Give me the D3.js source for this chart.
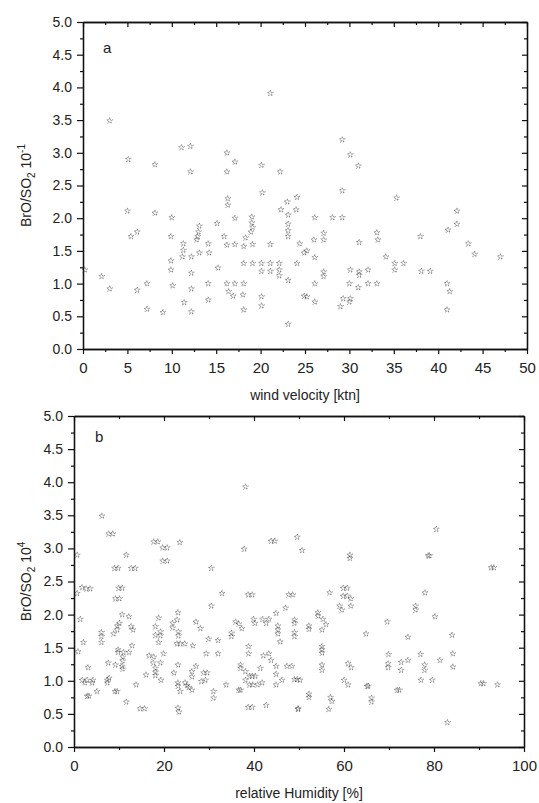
<!DOCTYPE html>
<html>
<head>
<meta charset="utf-8">
<script src="https://cdn.jsdelivr.net/npm/d3@7"></script>
<style>
  body { margin: 0; background: #fff; }
  text { font-family: "Liberation Sans", Arial, sans-serif; fill: #222; }
</style>
</head>
<body>
<div id="chart"></div>
<script>
// panel a: wind velocity [ktn] vs BrO/SO2
var windPoints = [
  [21.1,3.91],[3.0,3.49],[11.1,3.08],[12.1,3.10],[16.2,3.0],[17.1,2.86],[5.1,2.90],[8.1,2.82],
  [20.1,2.81],[12.1,2.71],[16.2,2.71],[22.2,2.71],[20.2,2.39],[16.3,2.30],[16.3,2.20],[5.0,2.11],
  [8.1,2.08],[10.0,2.01],[17.1,2.0],[19.0,2.02],[19.0,1.93],[19.1,1.86],[18.9,1.79],[23.0,2.25],
  [24.1,2.32],[22.3,2.13],[23.1,2.05],[24.0,2.13],[23.1,1.91],[23.1,1.81],[23.1,1.72],[24.4,1.61],
  [24.9,1.47],[15.1,1.92],[15.9,1.72],[16.2,1.59],[17.1,1.60],[18.1,1.57],[18.3,1.70],[19.1,1.60],
  [21.1,1.60],[13.1,1.88],[13.0,1.79],[12.9,1.72],[12.8,1.67],[14.1,1.61],[13.1,1.47],[14.2,1.47],
  [11.3,1.61],[11.3,1.51],[11.2,1.41],[12.2,1.41],[9.9,1.72],[9.9,1.35],[9.9,1.21],[10.1,0.97],
  [5.4,1.72],[6.1,1.79],[0.2,1.21],[2.1,1.11],[3.0,0.92],[6.1,0.90],[7.2,1.00],[7.2,0.61],
  [9.0,0.56],[12.2,1.16],[12.2,0.92],[12.2,0.57],[11.4,0.71],[14.1,1.0],[14.1,0.75],[16.2,1.0],
  [17.1,1.0],[18.1,1.0],[16.4,0.88],[16.9,0.81],[18.0,0.83],[18.1,0.60],[18.1,1.31],[19.1,1.31],
  [20.1,1.31],[20.1,1.19],[21.1,1.31],[21.1,1.19],[22.1,1.31],[22.1,1.21],[22.1,1.12],[23.1,1.05],
  [20.1,0.80],[20.1,0.66],[23.1,0.38],[24.1,1.31],[24.9,0.81],[15.2,1.24],
  [29.2,3.20],[30.1,2.97],[31.0,2.80],[29.2,2.42],[35.3,2.31],[26.1,2.01],[28.1,2.01],[29.2,2.01],
  [27.1,1.77],[27.1,1.67],[26.0,1.67],[25.2,1.50],[26.1,1.40],[31.1,1.63],[33.1,1.78],[33.2,1.67],
  [38.0,1.72],[41.1,1.82],[42.1,2.11],[42.1,1.91],[43.4,1.61],[44.1,1.45],[47.0,1.41],[34.1,1.41],
  [35.1,1.31],[36.1,1.31],[35.1,1.21],[27.1,1.18],[27.1,1.11],[30.1,1.21],[31.1,1.18],[31.1,1.13],
  [32.1,1.21],[38.1,1.19],[39.1,1.19],[26.1,1.00],[30.0,1.0],[32.1,1.0],[33.1,1.0],[31.0,0.94],
  [41.0,1.0],[41.3,0.88],[41.0,0.60],[25.2,0.80],[26.1,0.72],[29.3,0.77],[30.1,0.77],[30.0,0.72],
  [29.0,0.65]
];

// panel b: relative humidity [%] vs BrO/SO2
var humidityPoints = [
  [38.1,3.93],[6.2,3.49],[7.7,3.22],[8.6,3.22],[17.7,3.10],[18.6,3.10],[19.7,3.01],[20.7,3.01],
  [23.5,3.09],[19.7,2.81],[20.7,2.81],[0.7,2.90],[11.6,2.90],[9.0,2.70],[9.8,2.70],[12.7,2.70],
  [13.6,2.70],[30.5,2.70],[37.8,2.99],[43.8,3.11],[44.6,3.11],[49.6,3.17],[1.8,2.41],[2.7,2.39],
  [3.6,2.39],[0.7,2.32],[9.9,2.40],[10.7,2.40],[9.2,2.24],[10.1,2.24],[30.5,2.13],[32.9,2.32],
  [38.7,2.30],[39.6,2.30],[47.7,2.30],[48.6,2.30],[47.0,2.10],[23.1,2.03],[10.7,2.0],[12.2,1.97],
  [1.4,1.93],[18.8,1.95],[21.9,1.87],[21.9,1.80],[22.9,1.92],[10.1,1.87],[9.6,1.83],[9.6,1.77],
  [12.7,1.82],[13.1,1.77],[6.1,1.73],[6.1,1.67],[6.1,1.58],[8.8,1.71],[18.1,1.82],[18.1,1.69],
  [19.2,1.74],[19.2,1.68],[18.8,1.58],[23.2,1.74],[23.2,1.68],[27.1,1.89],[28.1,1.79],[29.9,1.63],
  [32.0,1.61],[35.9,1.89],[36.6,1.86],[37.3,1.79],[35.0,1.72],[35.0,1.67],[39.9,1.93],[41.9,1.93],
  [43.3,1.93],[40.2,1.87],[42.7,1.87],[44.9,2.02],[45.3,1.83],[45.3,1.77],[45.3,1.71],[45.8,1.59],
  [49.0,1.92],[49.0,1.87],[49.0,1.73],[49.0,1.67],[12.9,1.53],[2.1,1.58],[0.9,1.44],[9.8,1.47],
  [9.8,1.43],[11.0,1.43],[12.2,1.43],[10.8,1.36],[10.8,1.30],[10.8,1.18],[7.6,1.27],[9.2,1.24],
  [10.7,1.22],[16.7,1.38],[17.7,1.36],[17.6,1.27],[19.2,1.27],[19.9,1.41],[18.1,1.19],[18.1,1.13],
  [18.1,1.08],[19.3,1.01],[16.0,1.09],[22.9,1.56],[23.6,1.56],[24.6,1.56],[26.4,1.53],[22.2,1.12],
  [23.1,1.24],[23.1,0.97],[23.1,0.92],[23.6,0.84],[23.1,0.59],[23.3,0.53],[27.1,1.22],[26.2,1.14],
  [26.2,1.06],[28.8,1.12],[29.6,1.12],[29.2,1.01],[28.3,0.99],[24.7,0.97],[25.1,0.93],[25.5,0.90],
  [26.2,0.86],[31.0,0.84],[31.0,0.74],[33.8,0.94],[29.4,1.41],[32.0,1.41],[38.8,1.52],[38.8,1.41],
  [37.0,1.24],[37.0,1.19],[38.1,1.14],[39.0,1.07],[39.6,1.07],[40.3,1.07],[38.1,1.01],[39.0,0.94],
  [39.7,0.94],[40.8,0.94],[41.8,0.97],[36.6,0.86],[37.0,0.86],[38.7,0.60],[39.6,0.60],[41.4,1.19],
  [42.1,1.38],[43.3,1.41],[43.8,1.31],[44.9,1.22],[44.9,1.10],[46.2,1.01],[44.9,0.94],[47.3,1.22],
  [48.4,1.22],[49.0,1.02],[49.6,1.02],[42.7,0.63],[49.8,0.58],[3.1,1.20],[1.8,1.01],[2.9,1.01],
  [4.2,1.01],[2.4,0.97],[4.0,0.97],[5.1,0.84],[2.9,0.77],[3.3,0.77],[7.8,1.04],[7.4,1.01],
  [7.4,0.97],[9.1,0.84],[9.6,0.84],[11.6,0.68],[13.8,0.94],[14.7,0.58],[15.7,0.58],
  [80.5,3.29],[50.7,2.97],[61.3,2.90],[61.3,2.85],[78.7,2.89],[79.0,2.89],[92.7,2.71],[93.3,2.71],
  [56.8,2.33],[59.8,2.40],[60.7,2.40],[59.8,2.28],[60.7,2.28],[61.5,2.24],[61.5,2.13],[59.0,2.13],
  [59.5,2.07],[78.0,2.33],[75.9,2.13],[75.9,2.07],[80.2,1.97],[54.2,2.03],[54.2,1.98],[52.2,1.83],
  [52.2,1.78],[55.3,1.93],[56.0,1.85],[55.1,1.77],[69.6,1.89],[64.9,1.71],[74.2,1.66],[84.0,1.69],
  [55.1,1.52],[55.1,1.47],[55.1,1.42],[69.9,1.40],[77.0,1.40],[84.2,1.41],[81.3,1.31],[69.8,1.26],
  [69.8,1.20],[72.7,1.28],[74.2,1.31],[72.7,1.16],[77.9,1.24],[77.9,1.16],[84.2,1.21],[55.1,1.24],
  [55.1,1.16],[60.9,1.26],[61.6,1.20],[50.2,1.01],[60.0,1.01],[60.9,0.94],[65.1,0.92],[65.4,0.92],
  [71.8,0.86],[72.3,0.86],[77.1,1.01],[79.6,1.01],[90.4,0.96],[91.0,0.96],[94.1,0.94],[52.2,0.80],
  [52.2,0.75],[57.0,0.75],[57.3,0.69],[66.1,0.74],[66.1,0.68],[49.8,0.57],[56.6,0.57],[83.0,0.37]
];

var yTicks = [0, 0.5, 1, 1.5, 2, 2.5, 3, 3.5, 4, 4.5, 5];
var yMinor = [0.25, 0.75, 1.25, 1.75, 2.25, 2.75, 3.25, 3.75, 4.25, 4.75];
var windTicks = [0, 5, 10, 15, 20, 25, 30, 35, 40, 45, 50];
var windMinor = [2.5, 7.5, 12.5, 17.5, 22.5, 27.5, 32.5, 37.5, 42.5, 47.5];
var humTicks = [0, 20, 40, 60, 80, 100];
var humMinor = [10, 30, 50, 70, 90];

var svg = d3.select("#chart").append("svg")
    .attr("width", 539)
    .attr("height", 803);

function drawPanel(p) {
    var x = d3.scaleLinear().domain(p.xDomain).range([p.left, p.right]);
    var y = d3.scaleLinear().domain([0, 5]).range([p.bottom, p.top]);
    var g = svg.append("g");

    // major + minor ticks on all four sides
    g.append("g").attr("transform", "translate(0," + p.bottom + ")")
        .call(d3.axisBottom(x).tickValues(p.xTicks).tickSize(5).tickSizeOuter(0).tickPadding(8).tickFormat(d3.format("d")))
        .call(function(a) { a.selectAll("text").style("font-size", "15px"); });
    g.append("g").attr("transform", "translate(0," + p.bottom + ")")
        .call(d3.axisBottom(x).tickValues(p.xMinor).tickSize(3).tickSizeOuter(0).tickFormat(""));
    g.append("g").attr("transform", "translate(0," + p.top + ")")
        .call(d3.axisTop(x).tickValues(p.xTicks).tickSize(-5).tickSizeOuter(0).tickFormat(""));
    g.append("g").attr("transform", "translate(0," + p.top + ")")
        .call(d3.axisTop(x).tickValues(p.xMinor).tickSize(-3).tickSizeOuter(0).tickFormat(""));

    g.append("g").attr("transform", "translate(" + p.left + ",0)")
        .call(d3.axisLeft(y).tickValues(yTicks).tickSize(6).tickSizeOuter(0).tickPadding(5).tickFormat(d3.format(".1f")))
        .call(function(a) { a.selectAll("text").style("font-size", "14px"); });
    g.append("g").attr("transform", "translate(" + p.left + ",0)")
        .call(d3.axisLeft(y).tickValues(yMinor).tickSize(3).tickSizeOuter(0).tickFormat(""));
    g.append("g").attr("transform", "translate(" + p.right + ",0)")
        .call(d3.axisRight(y).tickValues(yTicks).tickSize(-5).tickSizeOuter(0).tickFormat(""));
    g.append("g").attr("transform", "translate(" + p.right + ",0)")
        .call(d3.axisRight(y).tickValues(yMinor).tickSize(-3).tickSizeOuter(0).tickFormat(""));

    g.selectAll(".domain").attr("stroke", "#111").attr("stroke-width", 1.3);
    g.selectAll(".tick line").attr("stroke", "#111").attr("stroke-width", 1.2);
    g.selectAll(".tick text").attr("fill", "#222").style("font-family", "'Liberation Sans', Arial, sans-serif");

    // scatter marks: tiny open stars, broken up like the scanned original
    var star = d3.symbol().type(d3.symbolStar).size(11);
    g.append("g").selectAll("path")
        .data(p.data)
        .enter()
        .append("path")
        .attr("d", star)
        .attr("transform", function(d) { return "translate(" + x(d[0]) + "," + y(d[1]) + ")"; })
        .attr("fill", "none")
        .attr("stroke", "#222")
        .attr("stroke-width", 0.6)
        .attr("stroke-dasharray", "1,0.9");

    // panel letter
    g.append("text")
        .attr("x", p.left + p.letterDx)
        .attr("y", p.top + p.letterDy)
        .style("font-size", "15px")
        .text(p.letter);

    // x title
    g.append("text")
        .attr("x", (p.left + p.right) / 2)
        .attr("y", p.bottom + 51)
        .attr("text-anchor", "middle")
        .style("font-size", "14px")
        .text(p.xTitle);

    // y title
    var yt = g.append("text")
        .attr("transform", "translate(31," + ((p.top + p.bottom) / 2) + ") rotate(-90)")
        .attr("text-anchor", "middle")
        .style("font-size", "14px");
    yt.append("tspan").text("BrO/SO");
    yt.append("tspan").attr("dy", 4).style("font-size", "10px").text("2");
    yt.append("tspan").attr("dy", -4).text(" 10");
    yt.append("tspan").attr("dy", -6).style("font-size", "10px").text(p.exponent);
}

drawPanel({
    data: windPoints, xDomain: [0, 50], xTicks: windTicks, xMinor: windMinor,
    left: 83, right: 527, top: 22, bottom: 349,
    letter: "a", letterDx: 20, letterDy: 31,
    xTitle: "wind velocity [ktn]", exponent: "-1"
});

drawPanel({
    data: humidityPoints, xDomain: [0, 100], xTicks: humTicks, xMinor: humMinor,
    left: 74, right: 524, top: 416, bottom: 747,
    letter: "b", letterDx: 21, letterDy: 26,
    xTitle: "relative Humidity [%]", exponent: "4"
});
</script>
</body>
</html>
